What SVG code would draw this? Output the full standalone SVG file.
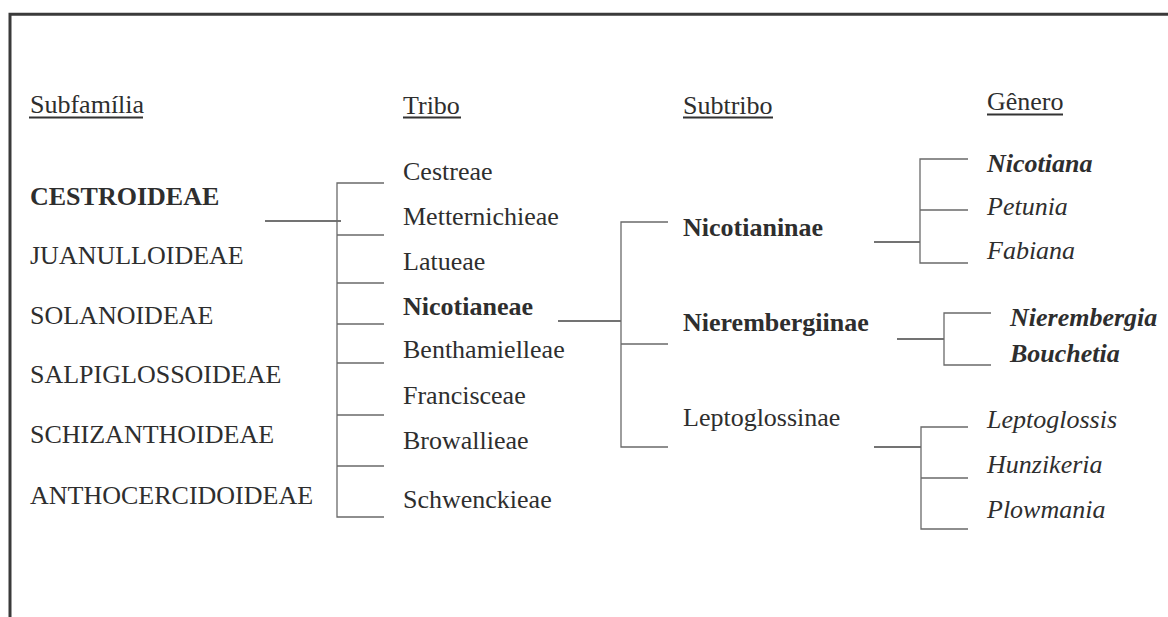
<svg xmlns="http://www.w3.org/2000/svg" width="1168" height="617" viewBox="0 0 1168 617">
<style>
text{font-family:"Liberation Serif","Times New Roman",serif;font-size:26px;fill:#2e2e2e}
.b{font-weight:bold}
.i{font-style:italic}
.ul{stroke:#333;stroke-width:2}
.c{stroke:#6a6a6a;stroke-width:1.3;fill:none}
.frame{stroke:#3a3a3a;stroke-width:3;fill:none}
</style>
<rect width="1168" height="617" fill="#fff"/>
<path class="frame" d="M10 617 V14.2 H1168"/>
<g id="headers">
<text x="30" y="113">Subfamília</text><line class="ul" x1="29" y1="117.5" x2="143" y2="117.5"/>
<text x="403" y="113.5">Tribo</text><line class="ul" x1="403" y1="117.5" x2="461" y2="117.5"/>
<text x="683" y="113.5">Subtribo</text><line class="ul" x1="683" y1="117.5" x2="773" y2="117.5"/>
<text x="987" y="110">Gênero</text><line class="ul" x1="987" y1="114.5" x2="1063" y2="114.5"/>
</g>
<g id="subfamilias">
<g id="cestroideae"><text class="b" x="30" y="205">CESTROIDEAE</text></g>
<g id="juanulloideae"><text x="30" y="264">JUANULLOIDEAE</text></g>
<g id="solanoideae"><text x="30" y="324">SOLANOIDEAE</text></g>
<g id="salpiglossoideae"><text x="30" y="383">SALPIGLOSSOIDEAE</text></g>
<g id="schizanthoideae"><text x="30" y="443">SCHIZANTHOIDEAE</text></g>
<g id="anthocercidoideae"><text x="30" y="504">ANTHOCERCIDOIDEAE</text></g>
</g>
<g id="tribos">
<g id="cestreae"><text x="403" y="180">Cestreae</text></g>
<g id="metternichieae"><text x="403" y="225">Metternichieae</text></g>
<g id="latueae"><text x="403" y="270">Latueae</text></g>
<g id="nicotianeae"><text class="b" x="403" y="315">Nicotianeae</text></g>
<g id="benthamielleae"><text x="403" y="358">Benthamielleae</text></g>
<g id="francisceae"><text x="403" y="404">Francisceae</text></g>
<g id="browallieae"><text x="403" y="449">Browallieae</text></g>
<g id="schwenckieae"><text x="403" y="508">Schwenckieae</text></g>
</g>
<g id="subtribos">
<g id="nicotianinae"><text class="b" x="683" y="236">Nicotianinae</text></g>
<g id="nierembergiinae"><text class="b" x="683" y="331">Nierembergiinae</text></g>
<g id="leptoglossinae"><text x="683" y="426">Leptoglossinae</text></g>
</g>
<g id="generos">
<g id="nicotiana"><text class="b i" x="987" y="172">Nicotiana</text></g>
<g id="petunia"><text class="i" x="987" y="215">Petunia</text></g>
<g id="fabiana"><text class="i" x="987" y="259">Fabiana</text></g>
<g id="nierembergia"><text class="b i" x="1010" y="326">Nierembergia</text></g>
<g id="bouchetia"><text class="b i" x="1010" y="362">Bouchetia</text></g>
<g id="leptoglossis"><text class="i" x="987" y="428">Leptoglossis</text></g>
<g id="hunzikeria"><text class="i" x="987" y="473">Hunzikeria</text></g>
<g id="plowmania"><text class="i" x="987" y="518">Plowmania</text></g>
</g>
<g id="connectors">
<path class="c" style="stroke:#444" d="M265 221 H341"/>
<path class="c" d="M384 183 H337 V517 H384 M337 235 H384 M337 283 H384 M337 324 H384 M337 363 H384 M337 415 H384 M337 466 H384"/>
<path class="c" style="stroke:#444" d="M558 321 H621"/>
<path class="c" d="M668 222 H621 V447 H668 M621 344 H668"/>
<path class="c" style="stroke:#444" d="M874 242 H920"/>
<path class="c" d="M968 159 H920 V263 H968 M920 210 H968"/>
<path class="c" style="stroke:#444" d="M897 339 H944"/>
<path class="c" d="M991 313 H944 V365 H991"/>
<path class="c" style="stroke:#444" d="M874 447 H921"/>
<path class="c" d="M968 427 H921 V529 H968 M921 478 H968"/>
</g>
</svg>
